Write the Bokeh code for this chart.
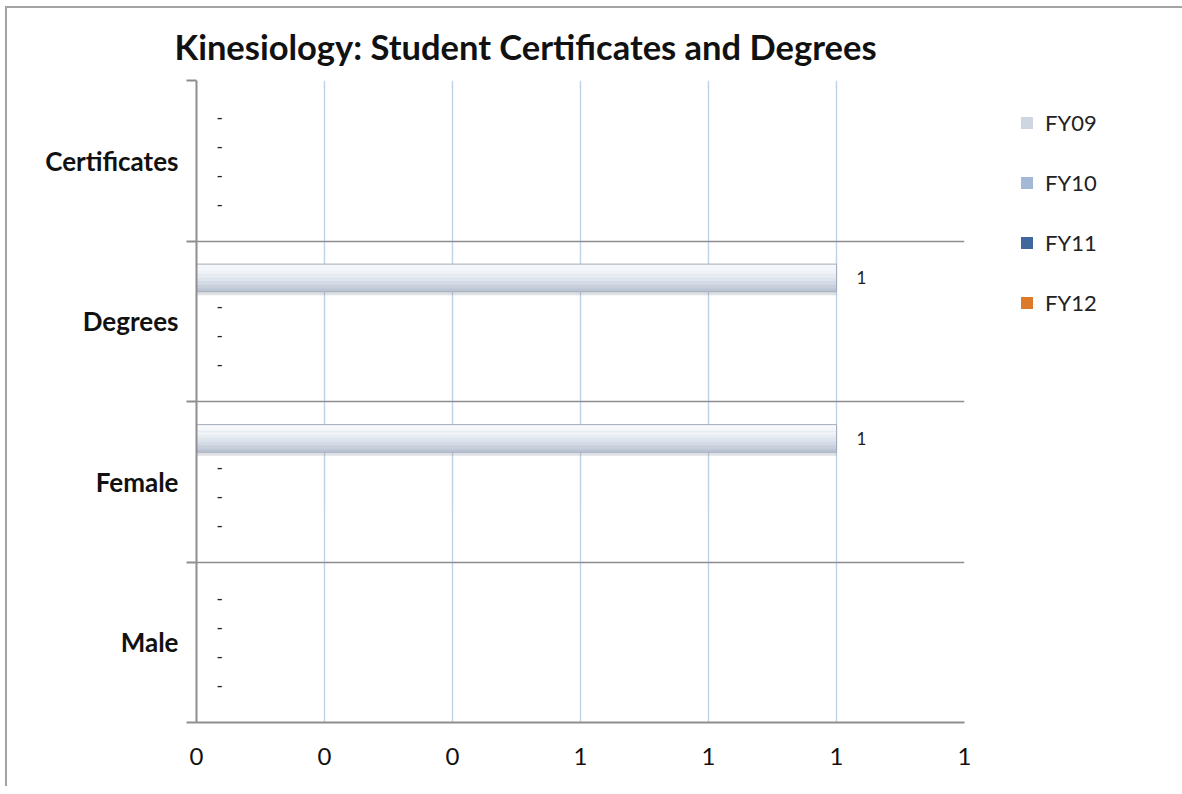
from bokeh.plotting import figure
from bokeh.models import (ColumnDataSource, FixedTicker, CustomJSTickFormatter,
                          Legend, LegendItem, Range1d)
from bokeh.transform import dodge
from bokeh.core.properties import value
from bokeh.embed import file_html
from bokeh.resources import INLINE

# ---------------- data ----------------
title_text = "Kinesiology: Student Certificates and Degrees"
categories = ["Certificates", "Degrees", "Female", "Male"]   # top to bottom
series = ["FY09", "FY10", "FY11", "FY12"]
fy09 = [0, 1, 1, 0]
fy10 = [0, 0, 0, 0]
fy11 = [0, 0, 0, 0]
fy12 = [0, 0, 0, 0]
x_ticks = [0, 0.2, 0.4, 0.6, 0.8, 1.0, 1.2]
x_max = 1.2
colors = ["#cfd6e2", "#a3b8d6", "#3f679b", "#dc7a2a"]
values_by_series = [fy09, fy10, fy11, fy12]

FONT = "Lato"
GRAY = "#8e8e8e"
n_cat = len(categories)
slot = 0.18
bar_h = 0.172
shade = ["#f7f9fc", "#f4f6fa", "#eff2f7", "#e8ecf2", "#dfe5ed", "#d4dbe6",
         "#c8d0dc", "#bcc5d3"]

p = figure(frame_width=768, frame_height=642, output_backend="svg",
           toolbar_location=None,
           x_range=Range1d(0, x_max), y_range=Range1d(0, n_cat),
           min_border_left=189, min_border_right=218, min_border_top=72,
           min_border_bottom=64, background_fill_color="white",
           border_fill_color="white", outline_line_color=None)
p.styles = {"margin-left": "5px", "margin-top": "6px",
            "border-left": "2px solid #a3a3a3", "border-top": "2px solid #a3a3a3"}

# title
p.title.text = title_text
p.title.align = "left"
p.title.offset = -22
p.title.text_font = FONT
p.title.text_font_size = "34.5px"
p.title.text_font_style = "bold"
p.title.text_color = "#111111"
p.title.standoff = 28

# grids
p.xgrid.ticker = FixedTicker(ticks=x_ticks[1:])
p.xgrid.grid_line_color = "#bfd0ea"
p.xgrid.grid_line_width = 1.4
p.ygrid.ticker = FixedTicker(ticks=list(range(0, n_cat + 1)))
p.ygrid.grid_line_color = GRAY
p.ygrid.grid_line_width = 1.6

# x axis
xa = p.xaxis[0]
xa.ticker = FixedTicker(ticks=x_ticks)
xa.formatter = CustomJSTickFormatter(code="return Math.round(tick).toString()")
xa.major_tick_line_color = None
xa.minor_tick_line_color = None
xa.axis_line_color = GRAY
xa.axis_line_width = 2
xa.major_label_text_font = FONT
xa.major_label_text_font_size = "24px"
xa.major_label_text_color = "#111111"
xa.major_label_standoff = 19

# y axis: labels at category centres, tick marks at boundaries
ya = p.yaxis[0]
centres = [n_cat - i - 0.5 for i in range(n_cat)]
ya.ticker = FixedTicker(ticks=centres, minor_ticks=list(range(0, n_cat + 1)))
ya.major_label_overrides = {c: name for c, name in zip(centres, categories)}
ya.major_tick_line_color = None
ya.minor_tick_line_color = GRAY
ya.minor_tick_line_width = 2
ya.minor_tick_out = 10
ya.minor_tick_in = 0
ya.axis_line_color = GRAY
ya.axis_line_width = 2
ya.major_label_text_font = FONT
ya.major_label_text_font_size = "26px"
ya.major_label_text_font_style = "bold"
ya.major_label_text_color = "#111111"
ya.major_label_standoff = 8

# bars
legend_items = []
band_h = bar_h / len(shade)
for j, (name, vals, col) in enumerate(zip(series, values_by_series, colors)):
    ys = [centres[i] + (1.5 - j) * slot for i in range(n_cat)]
    src = ColumnDataSource(dict(
        y=ys, v=vals, cat=categories,
        lab=["-" if v == 0 else str(v) for v in vals]))
    # soft shadow
    p.hbar(y=dodge("y", -0.022, range=p.y_range), left=0, right="v", height=bar_h,
           source=src, fill_color="#7d8590", fill_alpha=0.25, line_color=None)
    r = p.hbar(y="y", left=0, right="v", height=bar_h, source=src,
               fill_color=col, line_color=None)
    # vertical gradient (bevel look)
    for k, sc in enumerate(shade):
        off = bar_h / 2 - (k + 0.5) * band_h
        p.hbar(y=dodge("y", off, range=p.y_range), left=0, right="v",
               height=band_h * 1.05, source=src, fill_color=sc, line_color=None)
    p.hbar(y="y", left=0, right="v", height=bar_h, source=src,
           fill_color=None, line_color="#a2acba", line_width=1)
    p.text(x="v", y="y", text="lab", source=src, x_offset=20,
           text_align="left", text_baseline="middle",
           text_font=value(FONT), text_font_size="17px", text_color="#222222")
    legend_items.append(LegendItem(label=name, renderers=[r]))

legend = Legend(items=legend_items, location=(55, 406),
                label_text_font=FONT, label_text_font_size="22px",
                label_text_color="#222222",
                glyph_width=15, glyph_height=15, label_standoff=11,
                label_height=13, spacing=33, padding=0, margin=0,
                border_line_color=None, background_fill_alpha=0)
p.add_layout(legend, "right")

open("out.html", "w").write(file_html(p, INLINE))
